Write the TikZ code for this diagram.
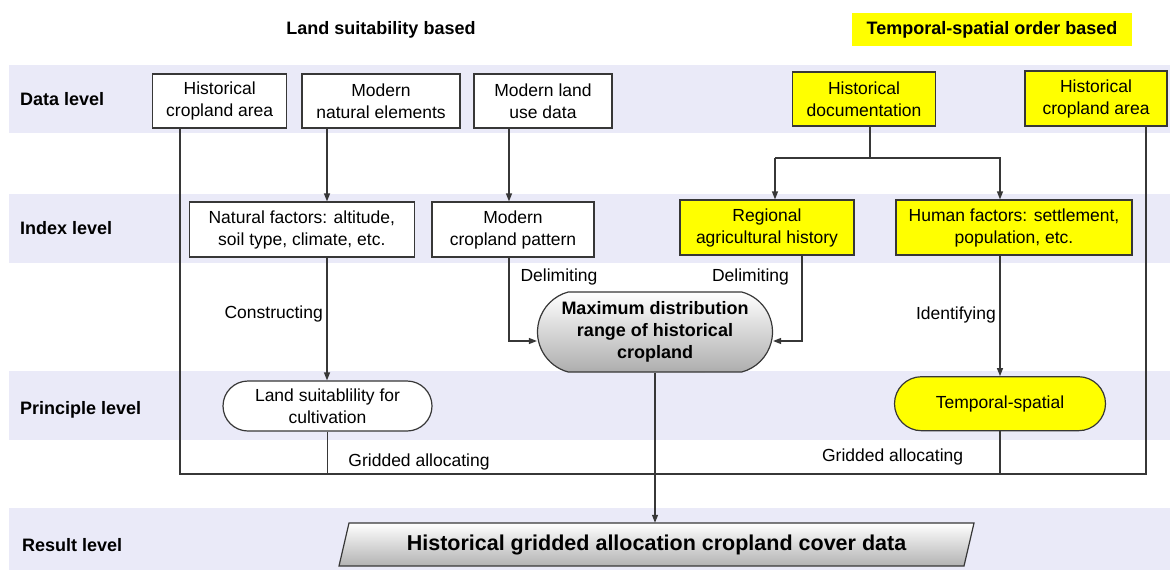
\documentclass[tikz,border=0pt]{standalone}
\usepackage{fontspec}
\setmainfont{Liberation Sans}
\usetikzlibrary{arrows.meta,shapes.misc,calc}
\definecolor{band}{RGB}{234,234,248}
\definecolor{ylw}{RGB}{255,255,0}
\definecolor{edge}{RGB}{55,55,55}
\newcommand\fsn{\fontsize{17.5}{22}\selectfont}
\newcommand\fsb{\fontsize{18}{22}\selectfont\bfseries}
\newcommand\fsr{\fontsize{21.5}{26}\selectfont\bfseries}
\begin{document}
\begin{tikzpicture}[x=1pt,y=-1pt,
  box/.style={draw=edge, line width=1.2pt, fill=white, align=center, inner sep=0pt, font=\fsn, minimum height=54pt},
  ybox/.style={box, fill=ylw},
  pill/.style={rounded rectangle, draw=edge, line width=1.2pt, fill=white, align=center, inner sep=0pt, font=\fsn},
  lvl/.style={anchor=west, font=\fsb, inner sep=0pt},
  lbl/.style={font=\fsn, inner sep=1pt},
  arr/.style={-{Triangle[length=8pt,width=6pt]}, line width=1.2pt, draw=edge},
  ln/.style={line width=1.2pt, draw=edge}]
\useasboundingbox (0,0) rectangle (1170,570);
% bands
\fill[band] (9,65) rectangle (1170,133);
\fill[band] (9,194) rectangle (1170,263);
\fill[band] (9,371) rectangle (1170,440);
\fill[band] (9,508) rectangle (1170,570);
% titles
\node[font=\fsb] (t1) at (381,30) {Land suitability based};
\node[font=\fsb, fill=ylw, minimum width=280pt, minimum height=33pt, inner sep=0pt] (t2) at (992,29.5) {Temporal-spatial order based};
% level labels
\node[lvl] (L1) at (20,99) {Data level};
\node[lvl] (L2) at (20,228) {Index level};
\node[lvl] (L3) at (20,410) {Principle level};
\node[lvl] (L4) at (22,545) {Result level};
% data level
\node[box, minimum width=134pt] (hca1) at (219.7,101) {Historical\\cropland area};
\node[box, minimum width=158pt] (mne) at (381,101) {Modern\\natural elements};
\node[box, minimum width=138pt] (mlu) at (543,101) {Modern land\\use data};
\node[ybox, minimum width=143pt] (hdoc) at (864,99) {Historical\\documentation};
\node[ybox, minimum width=142pt, minimum height=55pt] (hca2) at (1096,98.5) {Historical\\cropland area};
% index level
\node[box, minimum width=225pt, minimum height=55pt] (nf) at (301.8,229.5) {Natural factors: altitude,\\soil type, climate, etc.};
\node[box, minimum width=162pt, minimum height=55pt] (mcp) at (513,229.5) {Modern\\cropland pattern};
\node[ybox, minimum width=174pt, minimum height=55pt] (rah) at (767,227.5) {Regional\\agricultural history};
\node[ybox, minimum width=236pt, minimum height=55pt] (hf) at (1014,227.5) {Human factors: settlement,\\population, etc.};
% max distribution
\node[pill, rounded rectangle arc length=150, minimum width=235pt, minimum height=80pt, font=\fsb, top color=white, bottom color=black!32] (maxd) at (655,332) {Maximum distribution\\range of historical\\cropland};
% principle level
\node[pill, minimum width=209pt, minimum height=50pt] (ls) at (327.5,406) {Land suitablility for\\cultivation};
\node[pill, fill=ylw, minimum width=211pt, minimum height=54pt] (ts) at (1000,403.7) {Temporal-spatial};
% result
\shade[top color=white, bottom color=black!30, draw=edge, line width=1.2pt] (349,523) -- (974,523) -- (964,566) -- (339,566) -- cycle;
\node[font=\fsr, minimum width=600pt, minimum height=43pt, inner sep=0pt] (res) at (656.5,544.5) {Historical gridded allocation cropland cover data};
% coordinates
\coordinate (jl) at (180,474);
\coordinate (jr) at (1146,474);
\coordinate (cx) at (327,0);
\coordinate (mx) at (509,341);
\coordinate (rx) at (802,341);
\coordinate (hj) at (870,158);
\coordinate (hl) at (775,158);
\coordinate (hr) at (1000,158);
% connectors
\draw[ln] (hca1.south -| jl) -- (jl) -- (jr) -- (hca2.south -| jr);
\draw[arr] (mne.south -| cx) -- (nf.north -| cx);
\draw[arr] (nf.south -| cx) -- (ls.north -| cx);
\draw[ln] (ls.south) -- (ls.south |- jl);
\draw[arr] (mlu.south -| mx) -- (mcp.north -| mx);
\draw[arr] (mcp.south -| mx) -- (mx) -- (maxd.west |- mx);
\draw[arr] (rah.south -| rx) -- (rx) -- (maxd.east |- rx);
\draw[ln] (hdoc.south -| hj) -- (hj);
\draw[arr] (hl) -- (hr -| hl) -- (hr) -- (hf.north -| hr);
\draw[arr] (hl) -- (rah.north -| hl);
\draw[arr] (hf.south -| ts.north) -- (ts.north);
\draw[ln] (ts.south) -- (ts.south |- jr);
\draw[arr] (maxd.south) -- (maxd.south |- res.north);
% labels
\node[lbl, anchor=east] (c1) at (324,314) {Constructing};
\node[lbl, anchor=east] (c2) at (997,315) {Identifying};
\node[lbl] (d1) at (559,277) {Delimiting};
\node[lbl] (d2) at (750.5,277) {Delimiting};
\node[lbl] (g1) at (419,462) {Gridded allocating};
\node[lbl] (g2) at (892.6,457) {Gridded allocating};
\end{tikzpicture}
\end{document}
